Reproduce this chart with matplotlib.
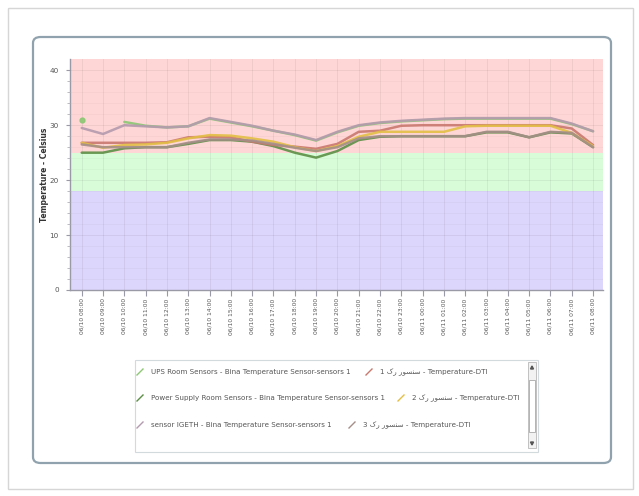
import numpy as np
import pandas as pd
import matplotlib
matplotlib.use('Agg')
import matplotlib.pyplot as plt
import matplotlib.dates as mdates
from matplotlib.patches import FancyBboxPatch, Rectangle, Polygon
from matplotlib.lines import Line2D

# hourly readings, 06/10 08:00 -> 06/11 08:00
times = pd.date_range("2000-06-10 08:00", periods=25, freq="h")

nan = np.nan
ups_room = [31.0, nan, 30.6, 29.9, 29.6, 29.8, 31.2, 30.5, 29.8, 29.0, 28.2, 27.2, 28.7,
            29.9, 30.4, 30.7, 30.9, 31.1, 31.2, 31.2, 31.2, 31.2, 31.2, 30.2, 28.9]
power_supply = [25.0, 25.0, 25.8, 26.0, 26.0, 26.6, 27.3, 27.3, 27.0, 26.2, 25.0, 24.1, 25.3,
                27.3, 27.9, 28.0, 28.0, 28.0, 28.0, 28.7, 28.7, 27.8, 28.7, 28.5, 26.0]
igeth = [29.5, 28.4, 30.0, 29.8, 29.6, 29.8, 31.3, 30.6, 29.9, 29.0, 28.3, 27.3, 28.8,
         30.0, 30.5, 30.8, 31.0, 31.2, 31.3, 31.3, 31.3, 31.3, 31.3, 30.3, 28.9]
rack1 = [26.8, 26.8, 26.8, 26.8, 26.9, 27.8, 27.9, 27.8, 27.0, 26.4, 26.1, 25.7, 26.6,
         28.8, 29.0, 29.9, 30.0, 30.0, 30.0, 30.0, 30.0, 30.0, 30.0, 29.4, 26.4]
rack2 = [26.8, 25.9, 26.4, 26.5, 26.8, 27.6, 28.2, 28.1, 27.6, 27.0, 26.0, 25.3, 26.2,
         27.9, 28.8, 28.8, 28.8, 28.8, 29.8, 29.9, 29.9, 29.9, 29.9, 28.6, 26.2]
rack3 = [26.5, 26.0, 26.0, 26.0, 26.0, 26.8, 27.4, 27.4, 27.2, 26.6, 25.9, 25.3, 26.0,
         27.6, 28.0, 28.0, 28.0, 28.0, 28.0, 28.8, 28.8, 27.8, 28.8, 28.6, 26.0]

# Persian names written in visual (left-to-right) presentation forms, since matplotlib has no bidi
rack_word = "\ufead\ufeee\ufeb4\ufee8\ufeb3"  # سنسور
rak_word = "\ufb8e\ufead"                     # رک
names = [
    "UPS Room Sensors - Bina Temperature Sensor-sensors 1",
    "Power Supply Room Sensors - Bina Temperature Sensor-sensors 1",
    "sensor IGETH - Bina Temperature Sensor-sensors 1",
    "1 " + rak_word + " " + rack_word + " - Temperature-DTI",
    "2 " + rak_word + " " + rack_word + " - Temperature-DTI",
    "3 " + rak_word + " " + rack_word + " - Temperature-DTI",
]
series = [ups_room, power_supply, igeth, rack1, rack2, rack3]
colors = ["#8cc874", "#5c8f45", "#b49aae", "#c9786e", "#e3bf45", "#a58e88"]

# threshold bands
bands = [(0, 18, "#ddd6fc"), (18, 25, "#d8fcd8"), (25, 42, "#ffd6d6")]

W, H = 639, 496
fig = plt.figure(figsize=(W / 100, H / 100), dpi=100)
fig.patch.set_facecolor("white")

def px(x, y):
    return x / W, 1 - y / H

# page border and rounded chart frame (behind the axes)
fig.patches.append(Rectangle(px(8, 489), 625 / W, 481 / H, transform=fig.transFigure,
                             fill=False, edgecolor="#d6d6d6", lw=1.0, zorder=-3))
fig.patches.append(FancyBboxPatch(px(33, 463), 578 / W, 426 / H, transform=fig.transFigure,
                                  boxstyle="round,pad=0,rounding_size=0.012",
                                  facecolor="white", edgecolor="#8fa2ad", lw=1.6, zorder=-2))

ax = fig.add_axes([70 / W, 1 - 290 / H, 533 / W, 230.7 / H])
ax.patch.set_alpha(0)
for lo, hi, c in bands:
    ax.axhspan(lo, hi, color=c, lw=0, zorder=0)

for vals, col in zip(series, colors):
    ax.plot(times, vals, color=col, lw=1.8, alpha=0.9, solid_joinstyle="round",
            solid_capstyle="round", marker="o", markersize=3.5, markevery=[0] if vals is ups_room else [],
            zorder=3)

ax.set_ylim(0, 42)
ax.set_xlim(times[0] - pd.Timedelta(minutes=33), times[-1] + pd.Timedelta(minutes=28))
ax.set_yticks([0, 10, 20, 30, 40])
ax.set_yticks(np.arange(0, 42, 2), minor=True)
ax.set_xticks(times)
ax.xaxis.set_major_formatter(mdates.DateFormatter("%m/%d %H:%M"))
ax.grid(True, which="major", color="#000000", alpha=0.07, lw=0.6)
ax.grid(True, which="minor", axis="y", color="#000000", alpha=0.04, lw=0.5)
ax.set_axisbelow(False)
for s in ["top", "right"]:
    ax.spines[s].set_visible(False)
for s in ["left", "bottom"]:
    ax.spines[s].set_color("#9a9aa6")
    ax.spines[s].set_linewidth(1.0)
ax.tick_params(axis="x", labelsize=4.3, labelcolor="#555555", color="#9a9aa6",
               length=4, rotation=90, pad=2)
ax.tick_params(axis="y", labelsize=5.2, labelcolor="#555555", color="#9a9aa6",
               length=3, pad=5)
ax.tick_params(axis="y", which="minor", length=2, color="#b0b0b8")
ax.set_ylabel("Temperature - Celsius", fontsize=5.5, fontweight="bold", color="#333333")
ax.yaxis.set_label_coords(-0.04, 0.5)

# legend box with scrollbar, items flow in rows
fig.patches.append(Rectangle(px(135, 452), 403 / W, 92 / H, transform=fig.transFigure,
                             facecolor="white", edgecolor="#d3dadd", lw=0.8))
fig.patches.append(Rectangle(px(528, 448), 8 / W, 86 / H, transform=fig.transFigure,
                             facecolor="#f2f2f2", edgecolor="#b8b8b8", lw=0.6))
fig.patches.append(Rectangle(px(529, 432), 6 / W, 52 / H, transform=fig.transFigure,
                             facecolor="white", edgecolor="#a8a8a8", lw=0.6))
fig.patches.append(Polygon([px(530.5, 369), px(533.5, 369), px(532, 366)], closed=True,
                           transform=fig.transFigure, color="#555555"))
fig.patches.append(Polygon([px(530.5, 442), px(533.5, 442), px(532, 445)], closed=True,
                           transform=fig.transFigure, color="#555555"))

legend_pos = [(137, 372), (137, 398), (137, 425), (366, 372), (398, 398), (349, 425)]
for (x0, y0), name, col in zip(legend_pos, names, colors):
    fig.lines.append(Line2D([px(x0, y0 + 3)[0], px(x0 + 6, y0 - 3)[0]],
                            [px(x0, y0 + 3)[1], px(x0 + 6, y0 - 3)[1]],
                            transform=fig.transFigure, color=col, lw=1.0))
    fig.text(*px(x0 + 14, y0), name, fontsize=5.1, color="#555555",
             va="center", ha="left", family=["DejaVu Sans"])

fig.savefig("out.png", dpi=100)
